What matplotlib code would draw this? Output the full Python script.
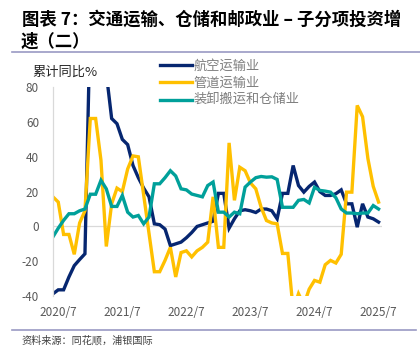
import matplotlib
matplotlib.use("Agg")
import matplotlib.pyplot as plt
import numpy as np
import pandas as pd

plt.rcParams['font.family'] = ['Noto Sans CJK SC', 'DejaVu Sans']
plt.rcParams['axes.unicode_minus'] = False

# monthly, cumulative yoy %, 2020/6 .. 2025/7
months = pd.period_range('2020-06', '2025-07', freq='M')

aviation = [-38.7, -36.4, -36.4, -29, -22.5, -19, -15.7, 120, 120, 110,
            88, 62, 59, 50, 47, 35, 28, 22, 17, 1.5,
            1, -1.5, -11, -10, -9, -6.5, -3.5, 0, 1, 2,
            3, 19, 19, -1, 4.4, 9, 9.6, 9, 8, 10,
            10, 9, 4.4, 19, 19, 35, 23.5, 19.7, 23, 25.5,
            20, 17.8, 17.8, 18.8, 21, 13, 13, -0.4, 13, 5.4,
            4.4, 2.5]

pipeline = [17, 14, -4.6, -4.6, -16, 2, 9, 62, 62, 38,
            -11.5, 13, 22, 20, 33, 40.5, 40, 18, -4, -26,
            -26, -19.5, -12, -29, -15, -14, -17.5, -14, -12, -9,
            17, -12, -12, 48, 15, 34, 32, 25, 21.6, 11,
            3.4, 2, 1.5, -15.5, -15.5, -48, -38.6, -45, -36, -31,
            -32, -22, -19.5, -21, -16, 19.7, 19.7, 69.5, 63, 39,
            23, 14]

warehousing = [-6, -1, 3.5, 7.3, 7.3, 9, 10, 18.5, 18.5, 26.5,
               21.6, 11.5, 11.5, 17.8, 8.2, 5.4, 6.3, 1.5, 5.4, 24.5,
               24.5, 28, 32, 29, 21.6, 21, 18.6, 17.8, 17, 23.5,
               25.5, 8.2, 8.2, 5.4, 8.2, 7.3, 22.6, 25.5, 28, 28.7,
               28.3, 28.5, 27, 11, 11, 11, 15, 15.5, 13.5, 22.5,
               20.7, 20.3, 19.7, 16.5, 10, 7.7, 7.7, 7.3, 7.7, 7.7,
               12, 10]

series_names = ['航空运输业', '管道运输业', '装卸搬运和仓储业']
colors = ['#062670', '#FFC000', '#00A09A']
tick_labels = ['2020/7', '2021/7', '2022/7', '2023/7', '2024/7', '2025/7']

x = np.arange(len(months))
month_str = [f"{p.year}/{p.month}" for p in months]
tick_pos = [month_str.index(t) for t in tick_labels]

fig = plt.figure(figsize=(4.2, 3.5), dpi=100)
ax = fig.add_axes([0.126, 0.154, 0.783, 0.597])

for vals, name, c in zip([aviation, pipeline, warehousing], series_names, colors):
    ax.plot(x, vals, color=c, lw=2.4, label=name, solid_joinstyle='miter')

ax.axhline(0, color='#d9d9d9', lw=0.9, zorder=0)
ax.set_xlim(0, 61.6)
ax.set_ylim(-40, 80)
ax.set_yticks(range(-40, 81, 20))
ax.set_xticks(tick_pos)
ax.set_xticklabels(tick_labels)
ax.tick_params(length=0, labelsize=8.5, labelcolor='#595959')
ax.tick_params(axis='y', pad=10)
ax.tick_params(axis='x', pad=7)
for s in ['top', 'right', 'bottom']:
    ax.spines[s].set_visible(False)
ax.spines['left'].set_color('#d9d9d9')
ax.spines['left'].set_linewidth(0.9)

fig.legend(loc='upper left', bbox_to_anchor=(0.365, 0.848), frameon=False,
           fontsize=9.5, handlelength=2.4, handletextpad=0.15, labelspacing=0.32,
           borderpad=0, labelcolor='#7f7f7f')

fig.text(0.078, 0.794, '累计同比%', fontsize=9.5, color='#262626', va='center')

fig.text(0.052, 0.943, '图表 7：交通运输、仓储和邮政业 – 子分项投资增', fontsize=12.5,
         fontweight='bold', va='center', color='black')
fig.text(0.050, 0.88, '速（二）', fontsize=12.5, fontweight='bold', va='center', color='black')

fig.add_artist(plt.Line2D([0.028, 1.0], [0.851, 0.851], color='#9a9ac4', lw=1.2))
fig.add_artist(plt.Line2D([0.028, 0.99], [0.057, 0.057], color='#9a9ac4', lw=1.2))
fig.text(0.05, 0.026, '资料来源：同花顺，浦银国际', fontsize=7.3, color='#404040', va='center')

fig.savefig('out.png', dpi=100)
